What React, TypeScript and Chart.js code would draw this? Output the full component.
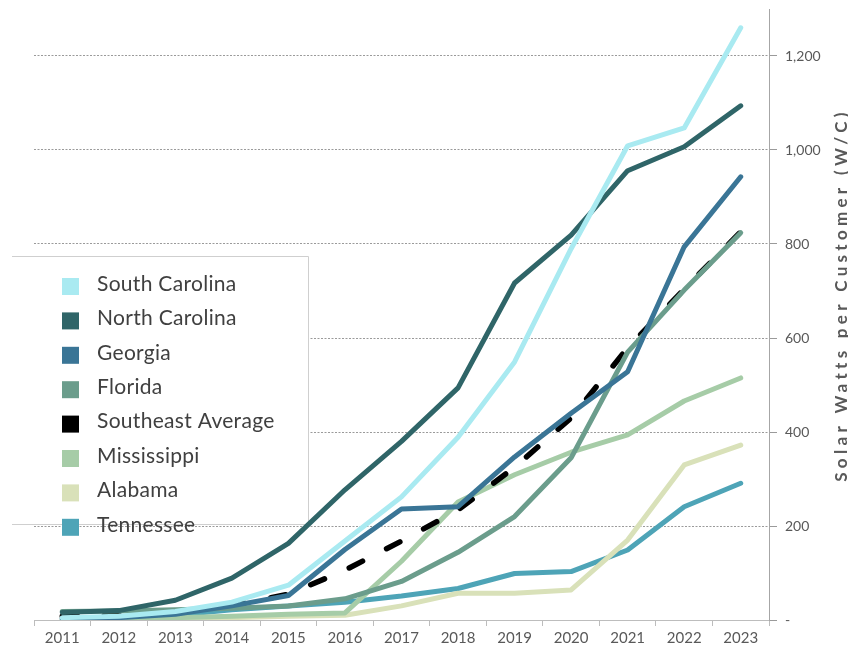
import React, { useEffect, useRef } from 'react';
import { Chart, registerables } from 'chart.js';

Chart.register(...registerables);

// ---------- data ----------
const years = ['2011', '2012', '2013', '2014', '2015', '2016', '2017', '2018', '2019', '2020', '2021', '2022', '2023'];

const southCarolina = [5, 8, 18, 38, 74, 168, 262, 389, 549, 790, 1009, 1047, 1260];
const northCarolina = [16, 20, 42, 89, 163, 277, 380, 494, 717, 819, 956, 1007, 1094];
const georgia = [3, 5, 12, 30, 52, 150, 236, 241, 347, 440, 528, 794, 943];
const florida = [18, 19, 22, 25, 30, 45, 82, 144, 220, 345, 570, 702, 824];
const southeastAverage = [8, 10, 17, 30, 55, 106, 168, 234, 325, 430, 579, 704, 826];
const mississippi = [2, 3, 5, 8, 12, 15, 125, 251, 309, 357, 394, 466, 515];
const alabama = [1, 2, 3, 5, 8, 10, 30, 57, 57, 64, 170, 330, 372];
const tennessee = [3, 5, 10, 22, 30, 38, 51, 67, 99, 103, 149, 241, 291];

const seriesNames = ['South Carolina', 'North Carolina', 'Georgia', 'Florida', 'Southeast Average', 'Mississippi', 'Alabama', 'Tennessee'];
const seriesValues = [southCarolina, northCarolina, georgia, florida, southeastAverage, mississippi, alabama, tennessee];
const seriesColors = ['#a9eaf1', '#2f6568', '#3a7596', '#6b9d8c', '#000000', '#a6cca7', '#d9e1b9', '#4ea4b7'];

const yTickValues = [0, 200, 400, 600, 800, 1000, 1200];
const yAxisTitle = 'Solar Watts per Customer (W/C)';

const FONT = 'Lato, "Open Sans", "DejaVu Sans", sans-serif';

const boxLegendPlugin = {
  id: 'boxLegend',
  beforeDatasetsDraw(chart: any) {
    const ctx = chart.ctx;
    const x0 = 12, y0 = 256, x1 = 308, y1 = 524;
    ctx.save();
    ctx.fillStyle = '#ffffff';
    ctx.fillRect(x0, y0, x1 - x0, y1 - y0);
    ctx.strokeStyle = '#cfcfcf';
    ctx.lineWidth = 1;
    ctx.beginPath();
    ctx.moveTo(x0, y0 + 0.5);
    ctx.lineTo(x1 + 0.5, y0 + 0.5);
    ctx.lineTo(x1 + 0.5, y1 + 0.5);
    ctx.lineTo(x0, y1 + 0.5);
    ctx.stroke();
    ctx.font = `21px ${FONT}`;
    try { (ctx as any).letterSpacing = '0.3px'; } catch (e) {}
    ctx.textBaseline = 'middle';
    ctx.textAlign = 'left';
    chart.data.datasets.forEach((ds: any, i: number) => {
      const cy = 286.5 + i * 34.4;
      ctx.fillStyle = ds.borderColor;
      ctx.fillRect(62, cy - 8.5, 17, 17);
      ctx.fillStyle = '#404040';
      ctx.fillText(ds.label, 97, cy - 2.5);
    });
    ctx.restore();
  },
};

const axisTitlePlugin = {
  id: 'axisTitle',
  afterDraw(chart: any) {
    const ctx = chart.ctx;
    ctx.save();
    ctx.translate(842, 297);
    ctx.rotate(-Math.PI / 2);
    ctx.font = `bold 17px ${FONT}`;
    try { (ctx as any).letterSpacing = '4.3px'; } catch (e) {}
    ctx.fillStyle = '#595959';
    ctx.textAlign = 'center';
    ctx.textBaseline = 'middle';
    ctx.fillText(yAxisTitle, 2, 0);
    ctx.restore();
  },
};

export default function App() {
  const canvasRef = useRef<HTMLCanvasElement | null>(null);

  useEffect(() => {
    if (!canvasRef.current) return;
    const datasets = seriesNames.map((name, i) => ({
      label: name,
      data: seriesValues[i],
      borderColor: seriesColors[i],
      backgroundColor: seriesColors[i],
      borderWidth: i === 4 ? 5.5 : 5,
      borderDash: i === 4 ? [15, 27] : [],
      borderCapStyle: 'round' as const,
      borderJoinStyle: 'round' as const,
      pointRadius: 0,
      pointHoverRadius: 0,
      tension: 0,
      fill: false,
    }));

    const chart = new Chart(canvasRef.current, {
      type: 'line',
      data: { labels: years, datasets },
      options: {
        responsive: false,
        animation: false,
        maintainAspectRatio: false,
        layout: { padding: { left: 34, top: 9, right: 0, bottom: 0 } },
        plugins: {
          legend: { display: false },
          tooltip: { enabled: false },
          title: { display: false },
        },
        scales: {
          x: {
            type: 'category',
            offset: true,
            afterFit: (s: any) => {
              s.height = 28;
              s.paddingLeft = 0;
              s.paddingRight = 0;
            },
            grid: {
              display: true,
              offset: true,
              drawOnChartArea: false,
              drawTicks: true,
              tickLength: 6,
              color: '#bdbdbd',
            },
            border: { display: true, color: '#bdbdbd', width: 1 },
            ticks: {
              color: '#595959',
              font: { family: FONT, size: 15 },
              padding: 3,
              maxRotation: 0,
              autoSkip: false,
            },
          },
          y: {
            position: 'right',
            min: 0,
            max: 1300,
            afterBuildTicks: (s: any) => {
              s.ticks = yTickValues.map((v) => ({ value: v }));
            },
            afterFit: (s: any) => {
              s.width = 79;
              s.paddingTop = 0;
              s.paddingBottom = 0;
            },
            grid: {
              display: true,
              color: '#9a9a9a',
              lineWidth: 1,
              drawTicks: true,
              tickLength: 8,
            },
            border: { display: true, color: '#a6a6a6', width: 1, dash: [2, 1.5] },
            ticks: {
              color: '#595959',
              font: { family: FONT, size: 14 },
              padding: 8,
              callback: (v: any) => (Number(v) === 0 ? '-' : Number(v).toLocaleString('en-US')),
            },
          },
        },
      },
      plugins: [boxLegendPlugin, axisTitlePlugin],
    });

    return () => chart.destroy();
  }, []);

  return (
    <div style={{ position: 'fixed', left: 0, top: 0, width: 848, height: 648, background: '#ffffff' }}>
      <canvas ref={canvasRef} width={848} height={648} style={{ display: 'block', width: 848, height: 648 }} />
    </div>
  );
}
